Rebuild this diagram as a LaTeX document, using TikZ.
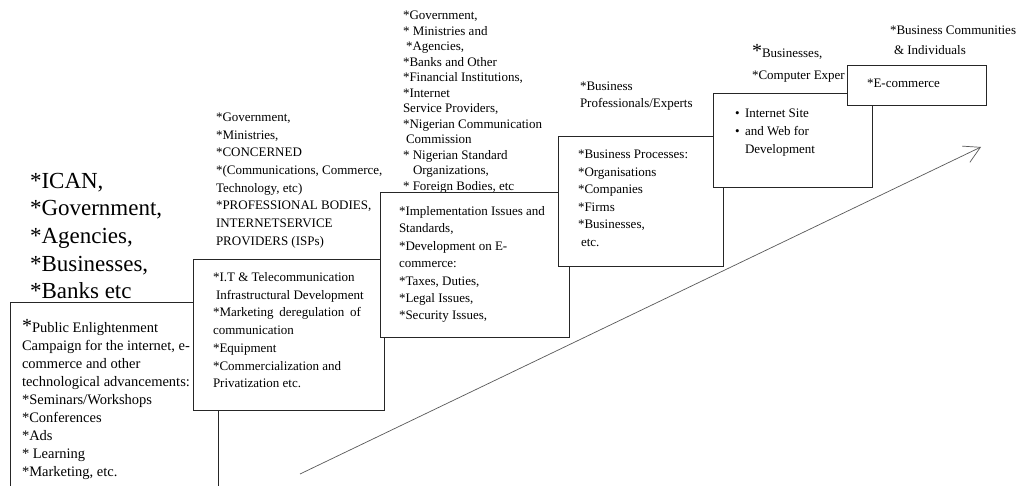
\documentclass[tikz,border=0pt]{standalone}
\usepackage{fontspec}
\setmainfont{Liberation Serif}
\usetikzlibrary{arrows.meta}
\newcommand\bigast{{\fontsize{20}{20}\selectfont *}}
\newcommand\txtlines[5]{%
  \foreach \tline [count=\k from 0] in {#5}{%
    \node[txt] (#1\k) at (#2,{#3+\k*#4}) {\tline};
  }}
\tikzset{
  txt/.style={anchor=base west, inner sep=0pt, outer sep=0pt, text=black},
  boxn/.style={draw=black!85, line width=0.9pt, fill=white, anchor=north west, inner sep=0pt, outer sep=0pt},
  arrowline/.style={draw=black!65, line width=0.7pt, -{Straight Barb[length=16pt,width=18pt,line width=0.7pt]}}
}
\begin{document}
\begin{tikzpicture}[x=1pt,y=-1pt]
\clip (0,0) rectangle (1019,486);
\fill[white] (0,0) rectangle (1019,486);

% left big text
\begin{scope}[font=\fontsize{23}{27}\selectfont]
\txtlines{big}{30}{188.5}{27.5}{{*ICAN,},{*Government,},{*Agencies,},{*Businesses,},{*Banks etc}}
\end{scope}

% box 1
\node[boxn, minimum width=208pt, minimum height=200pt] (b1) at (10,302) {};
\begin{scope}[font=\fontsize{14.5}{18}\selectfont]
\txtlines{ba}{22}{332.5}{18}{{\bigast Public Enlightenment},{Campaign for the internet, e-},{commerce and other},{technological advancements:},{*Seminars/Workshops},{*Conferences},{*Ads},{* Learning},{*Marketing, etc.}}
\end{scope}

% above box 2
\begin{scope}[font=\fontsize{13}{17}\selectfont]
\txtlines{tb}{216}{121.5}{17.7}{{*Government,},{*Ministries,},{*CONCERNED},{*(Communications, Commerce,},{Technology, etc)},{*PROFESSIONAL BODIES,},{INTERNETSERVICE},{PROVIDERS (ISPs)}}
\end{scope}

% box 2
\node[boxn, minimum width=191pt, minimum height=151pt] (b2) at (193,259) {};
\begin{scope}[font=\fontsize{13}{17}\selectfont]
\txtlines{bb}{213}{281.5}{17.7}{{*I.T \& Telecommunication},{\hspace{3pt}Infrastructural Development},{\makebox[148pt][s]{*Marketing deregulation of}},{communication},{*Equipment},{*Commercialization and},{Privatization etc.}}
\end{scope}

% above box 3
\begin{scope}[font=\fontsize{13}{15}\selectfont]
\txtlines{tc}{403}{20}{15.5}{{*Government,},{* Ministries and},{\hspace{3pt}*Agencies,},{*Banks and Other},{*Financial Institutions,},{*Internet},{Service Providers,},{*Nigerian Communication},{\hspace{3pt}Commission},{* Nigerian Standard},{\hspace{10pt}Organizations,},{* Foreign Bodies, etc}}
\end{scope}

% box 3
\node[boxn, minimum width=189pt, minimum height=145pt] (b3) at (380,192) {};
\begin{scope}[font=\fontsize{13}{17}\selectfont]
\txtlines{bc}{399}{215.5}{17.4}{{*Implementation Issues and},{Standards,},{*Development on E-},{commerce:},{*Taxes, Duties,},{*Legal Issues,},{*Security Issues,}}
\end{scope}

% above box 4
\begin{scope}[font=\fontsize{13}{17}\selectfont]
\txtlines{td}{580}{90.5}{17}{{*Business},{Professionals/Experts}}
\end{scope}

% box 4
\node[boxn, minimum width=165pt, minimum height=130pt] (b4) at (558,136) {};
\begin{scope}[font=\fontsize{13}{17}\selectfont]
\txtlines{bd}{578}{158.5}{17.6}{{*Business Processes:},{*Organisations},{*Companies},{*Firms},{*Businesses,},{\hspace{3pt}etc.}}
\end{scope}

% above box 5
\begin{scope}[font=\fontsize{13}{17}\selectfont]
\txtlines{te}{752}{57.5}{22}{{\bigast Businesses,},{*Computer Exper}}
\end{scope}

% box 5
\node[boxn, minimum width=159pt, minimum height=94pt] (b5) at (713,93) {};
\begin{scope}[font=\fontsize{13}{17}\selectfont]
\txtlines{be}{735}{117.5}{18}{{\makebox[10pt][l]{\textbullet}Internet Site},{\makebox[10pt][l]{\textbullet}and Web for},{\hspace{10pt}Development}}
\end{scope}

% above box 6
\begin{scope}[font=\fontsize{13}{17}\selectfont]
\txtlines{tf}{890}{35}{19.5}{{*Business Communities},{\hspace{4pt}\& Individuals}}
\end{scope}

% box 6
\node[boxn, minimum width=139pt, minimum height=40pt] (b6) at (847,65) {};
\node[txt, font=\fontsize{13}{17}\selectfont] (bf0) at (867,87.5) {*E-commerce};

% arrow
\coordinate (as) at (300,474);
\coordinate (ae) at (981,147);
\draw[arrowline] (as) -- (ae);
\end{tikzpicture}
\end{document}
